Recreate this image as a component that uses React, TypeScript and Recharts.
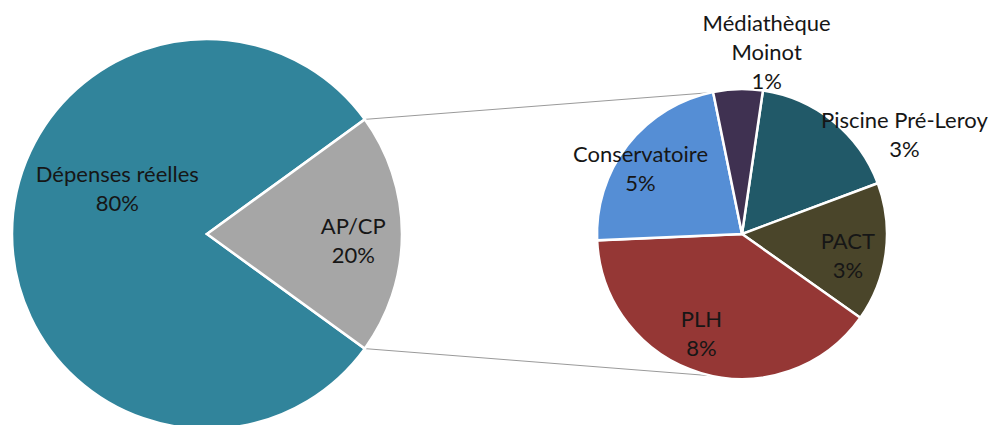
import { PieChart, Pie, Cell } from 'recharts';

// main pie
const mainNames = ['Dépenses réelles', 'AP/CP'];
const mainValues = [80, 20];
const mainColors = ['#31849B', '#A6A6A6'];

// secondary pie (breakdown of AP/CP), clockwise from the top
const subNames = ['Piscine Pré-Leroy', 'PACT', 'PLH', 'Conservatoire', 'Médiathèque Moinot'];
const subValues = [3.4, 3.1, 7.9, 4.5, 1.1];
const subColors = ['#215968', '#4A452A', '#953735', '#558ED5', '#3F3151'];

const W = 993;
const H = 425;
const MAIN = { cx: 207, cy: 234, r: 195 };
const SUB = { cx: 742, cy: 234, r: 145 };

// label anchors, in units of the radius from the pie centre
const LABEL_POS: Record<string, [number, number]> = {
    'Dépenses réelles': [-0.46, -0.24],
    'AP/CP': [0.75, 0.03],
    'Piscine Pré-Leroy': [1.12, -0.69],
    'PACT': [0.73, 0.14],
    'PLH': [-0.28, 0.68],
    'Conservatoire': [-0.70, -0.46],
    'Médiathèque Moinot': [0.17, -1.26],
};

const FONT = 'Lato, "Open Sans", sans-serif';
const FS = 22;
const LH = 29;

const mainData = mainNames.map((name, i) => ({ name, value: mainValues[i] }));
const subData = subNames.map((name, i) => ({ name, value: subValues[i] }));

const renderLabel = (props: any) => {
    const { cx, cy, outerRadius, name, value } = props;
    const [fx, fy] = LABEL_POS[name] || [0.5, 0];
    const x = cx + fx * outerRadius;
    const y = cy + fy * outerRadius;
    const lines = name === 'Médiathèque Moinot'
        ? ['Médiathèque', 'Moinot']
        : [name];
    lines.push(`${Math.round(value)}%`);
    const y0 = y - ((lines.length - 1) * LH) / 2;
    return (
        <text
            x={x}
            y={y0}
            textAnchor="middle"
            dominantBaseline="central"
            fill="#161616"
            fontFamily={FONT}
            fontSize={FS}
        >
            {lines.map((l, i) => (
                <tspan key={i} x={x} dy={i === 0 ? 0 : LH}>{l}</tspan>
            ))}
        </text>
    );
};

const pt = (c: { cx: number; cy: number; r: number }, deg: number) => {
    const a = (deg * Math.PI) / 180;
    return [c.cx + c.r * Math.cos(a), c.cy - c.r * Math.sin(a)];
};

export default function App() {
    // AP/CP spans +/- half its share around 0 deg
    const half = (mainValues[1] / (mainValues[0] + mainValues[1])) * 180;
    const [ax, ay] = pt(MAIN, half);
    const [bx, by] = pt(MAIN, -half);
    const [cx1, cy1] = pt(SUB, 103);
    const [cx2, cy2] = pt(SUB, -102);

    return (
        <div style={{ position: 'absolute', left: 0, top: 0, width: W, height: H, background: '#fff', overflow: 'hidden' }}>
            <svg width={W} height={H} style={{ position: 'absolute', left: 0, top: 0 }}>
                <line x1={ax} y1={ay} x2={cx1} y2={cy1} stroke="#9a9a9a" strokeWidth={1} />
                <line x1={bx} y1={by} x2={cx2} y2={cy2} stroke="#9a9a9a" strokeWidth={1} />
            </svg>
            <div style={{ position: 'absolute', left: 0, top: 0 }}>
                <PieChart width={W} height={H} margin={{ top: 0, right: 0, bottom: 0, left: 0 }}>
                    <Pie
                        data={mainData}
                        dataKey="value"
                        cx={MAIN.cx}
                        cy={MAIN.cy}
                        outerRadius={MAIN.r}
                        startAngle={half}
                        endAngle={half + 360}
                        stroke="#fff"
                        strokeWidth={2.5}
                        labelLine={false}
                        label={renderLabel}
                        isAnimationActive={false}
                    >
                        {mainData.map((d, i) => (
                            <Cell key={`m-${i}`} fill={mainColors[i]} />
                        ))}
                    </Pie>
                    <Pie
                        data={subData}
                        dataKey="value"
                        cx={SUB.cx}
                        cy={SUB.cy}
                        outerRadius={SUB.r}
                        startAngle={81.7}
                        endAngle={81.7 - 360}
                        stroke="#fff"
                        strokeWidth={2.5}
                        labelLine={false}
                        label={renderLabel}
                        isAnimationActive={false}
                    >
                        {subData.map((d, i) => (
                            <Cell key={`s-${i}`} fill={subColors[i]} />
                        ))}
                    </Pie>
                </PieChart>
            </div>
        </div>
    );
}
